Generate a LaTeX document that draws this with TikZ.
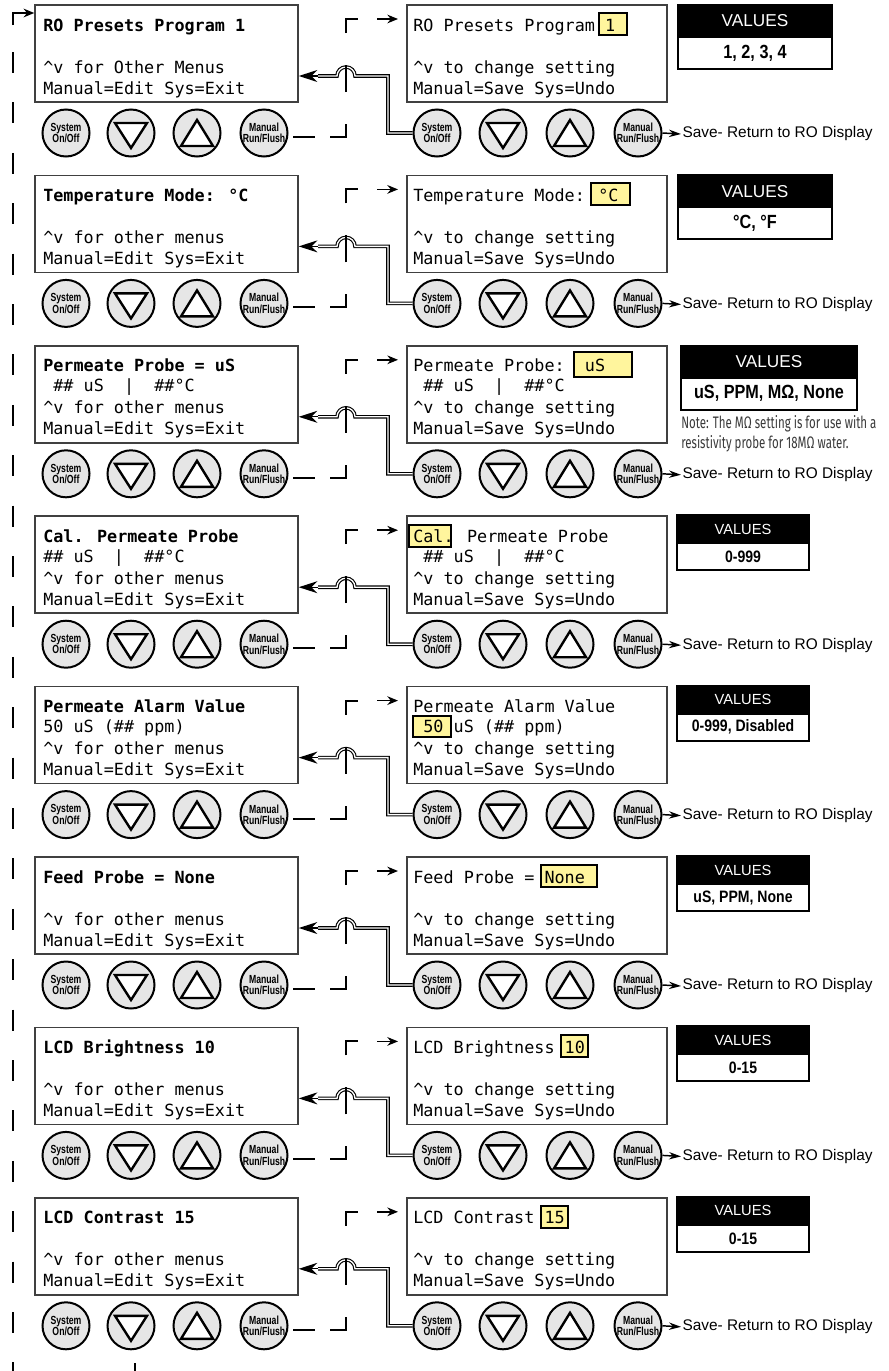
\documentclass[tikz,border=0pt]{standalone}
\usepackage{fontspec}
\setmainfont{Liberation Sans}
\newfontfamily\lcdfont{DejaVu Sans Mono}
\newfontfamily\btnfont[FakeStretch=0.74]{Liberation Sans}
\newfontfamily\valfont[FakeStretch=0.85]{Liberation Sans}
\newfontfamily\notefont[FakeStretch=0.69]{Fira Sans}
\usetikzlibrary{arrows.meta}
\definecolor{hlc}{HTML}{FFF59D}
\definecolor{btnc}{HTML}{E6E6E6}
\definecolor{dispc}{HTML}{404040}
\definecolor{notec}{HTML}{3A3A3A}
\tikzset{
 disp/.style={draw=dispc, line width=1.1pt, minimum width=197.25pt, minimum height=72.75pt, inner sep=0pt},
 btn/.style={circle, draw=black, line width=1.5pt, fill=btnc, minimum size=35.25pt, inner sep=0pt, align=center, font=\btnfont\bfseries\fontsize{8.8}{8.6}\selectfont},
 tri/.style={draw=black, fill=white, line width=1.8pt, line join=miter},
 lcd/.style={anchor=base west, inner sep=0pt, font=\lcdfont\fontsize{12.58}{15}\selectfont},
 lcdb/.style={anchor=base west, inner sep=0pt, font=\lcdfont\bfseries\fontsize{12.58}{15}\selectfont},
 hlbox/.style={fill=hlc, draw=black, line width=1.5pt},
 brk/.style={line width=1.6pt, line join=miter},
 arr/.style={line width=1.1pt, -{Stealth[length=8pt,width=6.5pt]}},
 bigarr/.style={line width=1pt, -{Stealth[length=14pt,width=9pt]}},
 savearr/.style={line width=1.1pt, -{Stealth[length=9pt,width=5.5pt]}},
 dbl/.style={draw=black, double=white, double distance=1pt, line width=0.85pt, line join=miter},
 savet/.style={anchor=west, inner sep=1pt, font=\fontsize{11.55}{13}\selectfont},
 vhead/.style={fill=black, draw=black, line width=1.5pt, text=white, inner sep=0pt},
 vval/.style={fill=white, draw=black, line width=1.5pt, inner sep=0pt},
 vbigh/.style={vhead, minimum width=115.5pt, minimum height=24pt, font=\fontsize{12.9}{14}\selectfont},
 vbigv/.style={vval, minimum width=115.5pt, minimum height=24pt, font=\valfont\bfseries\fontsize{14.3}{15}\selectfont},
 vsmh/.style={vhead, minimum width=99pt, minimum height=21pt, font=\fontsize{11}{12}\selectfont},
 vsmv/.style={vval, minimum width=99pt, minimum height=20.25pt, font=\valfont\bfseries\fontsize{12.4}{14}\selectfont},
 notet/.style={anchor=base west, inner sep=0pt, text=notec, font=\notefont\fontsize{12.5}{14}\selectfont}
}
\begin{document}
\begin{tikzpicture}[x=0.75pt,y=-0.75pt]
\useasboundingbox (0,0) rectangle (889,1371);
\fill[white] (0,0) rectangle (889,1371);

\foreach \i in {1,...,8}{
 \pgfmathsetmacro\rr{170.4*(\i-1)}
 \begin{scope}[shift={(0,\rr)}]
  \node[disp] (L\i) at (166.5,53.5) {};
  \node[disp, minimum width=195pt] (R\i) at (537,53.5) {};
  \node[btn] (ls\i) at (66,133) {System\\On/Off};
  \node[btn] (ld\i) at (131,133) {};
  \node[btn] (lu\i) at (197,133) {};
  \node[btn] (lm\i) at (264,133) {Manual\\Run/Flush};
  \node[btn] (rs\i) at (437,133) {System\\On/Off};
  \node[btn] (rd\i) at (503,133) {};
  \node[btn] (ru\i) at (570,133) {};
  \node[btn] (rm\i) at (638,133) {Manual\\Run/Flush};
  \draw[tri] ([shift={(-16,-10)}]ld\i.center) -- ([shift={(16,-10)}]ld\i.center) -- ([shift={(0,15)}]ld\i.center) -- cycle;
  \draw[tri] ([shift={(-16,-10)}]rd\i.center) -- ([shift={(16,-10)}]rd\i.center) -- ([shift={(0,15)}]rd\i.center) -- cycle;
  \draw[tri] ([shift={(0,-13)}]lu\i.center) -- ([shift={(16,13)}]lu\i.center) -- ([shift={(-16,13)}]lu\i.center) -- cycle;
  \draw[tri] ([shift={(0,-13)}]ru\i.center) -- ([shift={(16,13)}]ru\i.center) -- ([shift={(-16,13)}]ru\i.center) -- cycle;
  % double line back to the menu display
  \coordinate (b\i) at (388,76);
  \coordinate (h\i) at (355,76);
  \coordinate (e\i) at (318,76);
  \draw[dbl] (rs\i.west) -| (b\i) -- (h\i) arc[start angle=0,end angle=-180,radius=9] -- (e\i);
  \draw[bigarr] (e\i) -- (e\i -| L\i.east);
  % dashed bracket from Manual to edit display
  \draw[brk] (293,137) -- (315,137);
  \draw[brk] (330,137) -- (346,137) -- (346,124);
  \draw[brk] (346,92) -- (346,65);
  \draw[brk] (346,33) -- (346,19) -- (358,19);
  \coordinate (ra\i) at (377,19);
  \coordinate (rb\i) at (398,19);
  \draw[arr] (ra\i) -- (rb\i);
  % save
  \node[savet] (sv\i) at (681,134) {Save- Return to RO Display};
  \draw[savearr] (rm\i.east) -- (sv\i.west);
 \end{scope}
}

% left return line
\coordinate (lt) at (13,13);
\draw[brk,-{Stealth[length=8pt,width=6.5pt]}] (13,25) -- (lt) -- (L1.west |- lt);
\draw[brk, dash pattern=on 15.75pt off 22.05pt] (13,52) -- (13,1371);
\draw[brk] (135,1363) -- (135,1371);

% ---------- Row 1
\begin{scope}[shift={(0,0)}]
\node[lcdb] (t1a) at (43,31) {RO Presets Program 1};
\node[lcd] (t1c) at (43,73) {\textasciicircum v for Other Menus};
\node[lcd] (t1d) at (43,94) {Manual=Edit Sys=Exit};
\draw[hlbox] (599,13) rectangle (627,35);
\node[lcd] (u1a) at (413,31) {RO Presets Program 1};
\node[lcd] (u1c) at (413,73) {\textasciicircum v to change setting};
\node[lcd] (u1d) at (413,94) {Manual=Save Sys=Undo};
\node[vbigh] (vh1) at (755,21) {VALUES};
\node[vbigv] (vv1) at (755,53) {1, 2, 3, 4};
\end{scope}

% ---------- Row 2
\begin{scope}[shift={(0,170.4)}]
\node[lcdb] (t2a) at (43,31) {Temperature Mode: °C};
\node[lcd] (t2c) at (43,73) {\textasciicircum v for other menus};
\node[lcd] (t2d) at (43,94) {Manual=Edit Sys=Exit};
\draw[hlbox] (591,13) rectangle (630,35);
\node[lcd] (u2a) at (413,31) {Temperature Mode: °C};
\node[lcd] (u2c) at (413,73) {\textasciicircum v to change setting};
\node[lcd] (u2d) at (413,94) {Manual=Save Sys=Undo};
\node[vbigh] (vh2) at (755,21) {VALUES};
\node[vbigv] (vv2) at (755,53) {°C, °F};
\end{scope}

% ---------- Row 3
\begin{scope}[shift={(0,340.8)}]
\node[lcdb] (t3a) at (43,31) {Permeate Probe = uS};
\node[lcd] (t3b) at (43,51) {~\#\#~uS~~|~~\#\#°C};
\node[lcd] (t3c) at (43,73) {\textasciicircum v for other menus};
\node[lcd] (t3d) at (43,94) {Manual=Edit Sys=Exit};
\draw[hlbox] (574,11) rectangle (632,36);
\node[lcd] (u3a) at (413,31) {Permeate Probe:~~uS};
\node[lcd] (u3b) at (413,51) {~\#\#~uS~~|~~\#\#°C};
\node[lcd] (u3c) at (413,73) {\textasciicircum v to change setting};
\node[lcd] (u3d) at (413,94) {Manual=Save Sys=Undo};
\node[vbigh, minimum width=132pt] (vh3) at (769,21) {VALUES};
\node[vbigv, minimum width=132pt] (vv3) at (769,53) {uS, PPM, MΩ, None};
\node[notet] (n3a) at (681,88) {Note: The MΩ setting is for use with a};
\node[notet] (n3b) at (681,108) {resistivity probe for 18MΩ water.};
\end{scope}

% ---------- Row 4
\begin{scope}[shift={(0,511.2)}]
\node[lcdb] (t4a) at (43,31) {Cal. Permeate Probe};
\node[lcd] (t4b) at (43,51) {\#\#~uS~~|~~\#\#°C};
\node[lcd] (t4c) at (43,73) {\textasciicircum v for other menus};
\node[lcd] (t4d) at (43,94) {Manual=Edit Sys=Exit};
\draw[hlbox] (409,14) rectangle (451,36);
\node[lcd] (u4a) at (413,31) {Cal. Permeate Probe};
\node[lcd] (u4b) at (413,51) {~\#\#~uS~~|~~\#\#°C};
\node[lcd] (u4c) at (413,73) {\textasciicircum v to change setting};
\node[lcd] (u4d) at (413,94) {Manual=Save Sys=Undo};
\node[vsmh] (vh4) at (743,18) {VALUES};
\node[vsmv] (vv4) at (743,45.5) {0-999};
\end{scope}

% ---------- Row 5
\begin{scope}[shift={(0,681.6)}]
\node[lcdb] (t5a) at (43,31) {Permeate Alarm Value};
\node[lcd] (t5b) at (43,51) {50 uS (\#\# ppm)};
\node[lcd] (t5c) at (43,73) {\textasciicircum v for other menus};
\node[lcd] (t5d) at (43,94) {Manual=Edit Sys=Exit};
\draw[hlbox] (413,34) rectangle (451,55);
\node[lcd] (u5a) at (413,31) {Permeate Alarm Value};
\node[lcd] (u5b) at (413,51) {~50 uS (\#\# ppm)};
\node[lcd] (u5c) at (413,73) {\textasciicircum v to change setting};
\node[lcd] (u5d) at (413,94) {Manual=Save Sys=Undo};
\node[vsmh] (vh5) at (743,18) {VALUES};
\node[vsmv] (vv5) at (743,45.5) {0-999, Disabled};
\end{scope}

% ---------- Row 6
\begin{scope}[shift={(0,852)}]
\node[lcdb] (t6a) at (43,31) {Feed Probe = None};
\node[lcd] (t6c) at (43,73) {\textasciicircum v for other menus};
\node[lcd] (t6d) at (43,94) {Manual=Edit Sys=Exit};
\draw[hlbox] (541,13) rectangle (597,35);
\node[lcd] (u6a) at (413,31) {Feed Probe = None};
\node[lcd] (u6c) at (413,73) {\textasciicircum v to change setting};
\node[lcd] (u6d) at (413,94) {Manual=Save Sys=Undo};
\node[vsmh] (vh6) at (743,18) {VALUES};
\node[vsmv] (vv6) at (743,45.5) {uS, PPM, None};
\end{scope}

% ---------- Row 7
\begin{scope}[shift={(0,1022.4)}]
\node[lcdb] (t7a) at (43,31) {LCD Brightness 10};
\node[lcd] (t7c) at (43,73) {\textasciicircum v for other menus};
\node[lcd] (t7d) at (43,94) {Manual=Edit Sys=Exit};
\draw[hlbox] (561,13) rectangle (588,35);
\node[lcd] (u7a) at (413,31) {LCD Brightness 10};
\node[lcd] (u7c) at (413,73) {\textasciicircum v to change setting};
\node[lcd] (u7d) at (413,94) {Manual=Save Sys=Undo};
\node[vsmh] (vh7) at (743,18) {VALUES};
\node[vsmv] (vv7) at (743,45.5) {0-15};
\end{scope}

% ---------- Row 8
\begin{scope}[shift={(0,1192.8)}]
\node[lcdb] (t8a) at (43,31) {LCD Contrast 15};
\node[lcd] (t8c) at (43,73) {\textasciicircum v for other menus};
\node[lcd] (t8d) at (43,94) {Manual=Edit Sys=Exit};
\draw[hlbox] (541,13) rectangle (568,35);
\node[lcd] (u8a) at (413,31) {LCD Contrast 15};
\node[lcd] (u8c) at (413,73) {\textasciicircum v to change setting};
\node[lcd] (u8d) at (413,94) {Manual=Save Sys=Undo};
\node[vsmh] (vh8) at (743,18) {VALUES};
\node[vsmv] (vv8) at (743,45.5) {0-15};
\end{scope}
\end{tikzpicture}
\end{document}
